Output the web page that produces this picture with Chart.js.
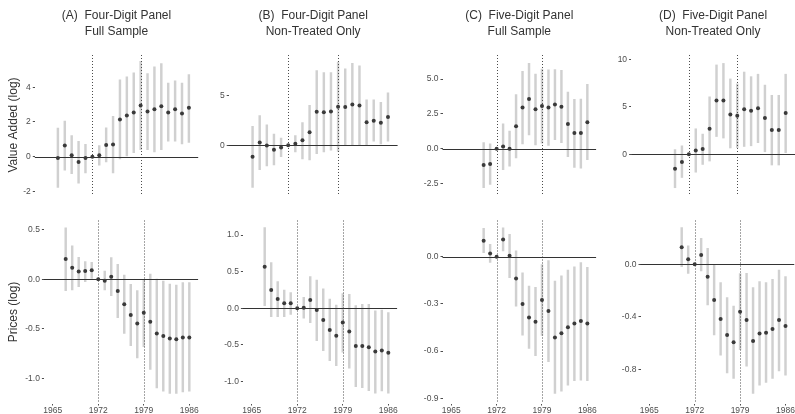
<!DOCTYPE html>
<html>
<head>
<meta charset="utf-8">
<script src="https://cdn.jsdelivr.net/npm/chart.js@4.4.1/dist/chart.umd.min.js"></script>
<style>
  body { margin: 0; background: #fff; }
  #wrap { position: relative; width: 795px; height: 414px; background: #fff; overflow: hidden; }
  #wrap canvas { position: absolute; }
</style>
</head>
<body>
<div id="wrap"></div>
<script>
// years of the event-study coefficients
const years4 = [1967, 1968, 1969, 1970, 1971, 1972, 1973, 1974, 1975, 1976,
                1977, 1978, 1979, 1980, 1981, 1982, 1983, 1984, 1985, 1986];
const years5 = [1970, 1971, 1972, 1973, 1974, 1975, 1976, 1977, 1978,
                1979, 1980, 1981, 1982, 1983, 1984, 1985, 1986];
const xTicks = [1965, 1972, 1979, 1986];
const eventYears = [1972, 1979];

const panelTitles = [
  ['(A)  Four-Digit Panel', 'Full Sample'],
  ['(B)  Four-Digit Panel', 'Non-Treated Only'],
  ['(C)  Five-Digit Panel', 'Full Sample'],
  ['(D)  Five-Digit Panel', 'Non-Treated Only']
];
const rowTitles = ['Value Added (log)', 'Prices (log)'];

// value added (log) - top row
const vaAEst = [-0.07, 0.64, 0.09, -0.30, -0.07, 0, 0.09, 0.67, 0.71, 2.14, 2.37, 2.55, 2.94, 2.60, 2.73, 2.90, 2.55, 2.73, 2.49, 2.82];
const vaALo  = [-1.76, -0.77, -0.98, -1.52, -0.93, null, -0.48, -0.30, -0.93, -0.13, 0.05, 0.23, 0.40, 0.41, 0.28, 0.41, 0.89, 0.89, 0.73, 0.82];
const vaAHi  = [1.65, 2.05, 1.21, 0.89, 0.71, null, 0.64, 1.66, 2.32, 4.42, 4.60, 4.83, 5.48, 4.78, 5.17, 5.36, 4.24, 4.37, 4.24, 4.72];

const vaBEst = [-1.15, 0.28, -0.03, -0.44, -0.22, 0, 0.16, 0.50, 1.30, 3.35, 3.29, 3.38, 3.85, 3.82, 4.07, 3.98, 2.30, 2.45, 2.24, 2.82];
const vaBLo  = [-4.22, -2.45, -2.08, -1.98, -1.15, null, -0.68, -1.37, -1.46, -0.84, -0.68, -0.50, -0.61, 0.03, -0.03, 0.03, 0.03, 0.40, 0.12, 0.40];
const vaBHi  = [1.89, 2.98, 2.05, 1.12, 0.71, null, 0.96, 2.26, 4.00, 7.48, 7.27, 7.27, 8.31, 7.64, 8.19, 7.95, 4.54, 4.54, 4.29, 5.25];

const vaCEst = [-1.18, -1.11, 0, 0.16, 0.00, 1.61, 2.95, 3.57, 2.84, 3.06, 2.95, 3.17, 3.01, 1.77, 1.12, 1.12, 1.90];
const vaCLo  = [-2.81, -2.57, null, -1.51, -1.25, -0.67, 0.34, 0.98, 0.27, 0.40, 0.23, 0.65, 0.43, -0.58, -1.34, -1.41, -0.80];
const vaCHi  = [0.43, 0.34, null, 1.79, 1.27, 3.88, 5.56, 6.14, 5.36, 5.72, 5.67, 5.69, 5.63, 4.07, 3.55, 3.57, 4.62];

const vaDEst = [-1.54, -0.82, 0, 0.39, 0.56, 2.69, 5.67, 5.67, 4.20, 4.07, 4.76, 4.59, 4.86, 3.84, 2.56, 2.56, 4.37];
const vaDLo  = [-3.54, -2.46, null, -1.90, -1.08, -0.72, 1.87, 1.71, 0.66, 0.70, 0.82, 0.89, 1.22, 0.26, -1.14, -1.14, 0.16];
const vaDHi  = [0.49, 0.89, null, 2.69, 2.13, 6.07, 9.44, 9.60, 7.96, 7.44, 8.69, 8.20, 8.46, 7.31, 6.23, 6.23, 8.46];

// prices (log) - bottom row
const prAEst = [0.206, 0.118, 0.078, 0.084, 0.091, 0, -0.014, 0.027, -0.118, -0.253, -0.361, -0.446, -0.338, -0.429, -0.547, -0.574, -0.598, -0.605, -0.588, -0.588];
const prALo  = [-0.115, -0.108, -0.074, -0.024, 0.010, null, -0.108, -0.166, -0.389, -0.547, -0.672, -0.794, -0.680, -0.912, -1.098, -1.132, -1.155, -1.155, -1.138, -1.132];
const prAHi  = [0.520, 0.340, 0.223, 0.180, 0.172, null, 0.084, 0.220, 0.152, 0.044, -0.050, -0.115, 0.000, 0.054, 0.003, -0.017, -0.047, -0.057, -0.034, -0.034];

const prBEst = [0.568, 0.250, 0.127, 0.068, 0.068, 0, 0.009, 0.114, -0.023, -0.159, -0.295, -0.373, -0.195, -0.318, -0.514, -0.514, -0.532, -0.591, -0.577, -0.605];
const prBLo  = [0.036, -0.114, -0.114, -0.114, -0.082, null, -0.136, -0.195, -0.440, -0.577, -0.714, -0.782, -0.600, -0.818, -1.068, -1.082, -1.123, -1.159, -1.127, -1.159];
const prBHi  = [1.100, 0.623, 0.364, 0.250, 0.214, null, 0.150, 0.432, 0.386, 0.264, 0.127, 0.045, 0.200, 0.190, 0.036, 0.055, 0.055, -0.036, -0.023, -0.059];

const prCEst = [0.102, 0.021, 0, 0.110, 0.006, -0.138, -0.301, -0.386, -0.413, -0.275, -0.345, -0.513, -0.487, -0.449, -0.424, -0.409, -0.424];
const prCLo  = [0.025, -0.036, null, 0.036, -0.133, -0.314, -0.498, -0.583, -0.629, -0.500, -0.667, -0.869, -0.854, -0.816, -0.788, -0.784, -0.788];
const prCHi  = [0.180, 0.078, null, 0.184, 0.142, 0.038, -0.102, -0.186, -0.195, -0.050, -0.025, -0.155, -0.121, -0.085, -0.064, -0.038, -0.068];

const prDEst = [0.130, 0.038, 0, 0.071, -0.094, -0.272, -0.417, -0.539, -0.595, -0.361, -0.425, -0.585, -0.527, -0.522, -0.494, -0.425, -0.471];
const prDLo  = [-0.018, -0.069, null, -0.051, -0.310, -0.539, -0.692, -0.827, -0.870, -0.650, -0.776, -0.985, -0.921, -0.901, -0.870, -0.812, -0.845];
const prDHi  = [0.280, 0.140, null, 0.198, 0.122, -0.005, -0.140, -0.254, -0.318, -0.070, -0.069, -0.178, -0.132, -0.140, -0.115, -0.043, -0.094];

// y tick labels per panel
const vaATicks = [-2, 0, 2, 4];
const vaBTicks = [0, 5];
const vaCTicks = [-2.5, 0, 2.5, 5];
const vaDTicks = [0, 5, 10];
const prATicks = [-1, -0.5, 0, 0.5];
const prBTicks = [-1, -0.5, 0, 0.5, 1];
const prCTicks = [-0.9, -0.6, -0.3, 0];
const prDTicks = [-0.8, -0.4, 0];

const FONT = "'Liberation Sans', Arial, Helvetica, sans-serif";
const X_MIN = 1963.65, X_MAX = 1987.35;

// layout: plot-area left/right edges (page px) and y ranges
const panels = [
  { row: 0, col: 0, years: years4, est: vaAEst, lo: vaALo, hi: vaAHi, ticks: vaATicks, dec: 0, yMin: -2.2,  yMax: 5.85,  L: 34.8,  R: 198.2 },
  { row: 0, col: 1, years: years4, est: vaBEst, lo: vaBLo, hi: vaBHi, ticks: vaBTicks, dec: 0, yMin: -4.98, yMax: 9.03,  L: 228.7, R: 397.6 },
  { row: 0, col: 2, years: years5, est: vaCEst, lo: vaCLo, hi: vaCHi, ticks: vaCTicks, dec: 1, yMin: -3.33, yMax: 6.73,  L: 442.5, R: 596.1 },
  { row: 0, col: 3, years: years5, est: vaDEst, lo: vaDLo, hi: vaDHi, ticks: vaDTicks, dec: 0, yMin: -4.31, yMax: 10.49, L: 631.1, R: 795 },
  { row: 1, col: 0, years: years4, est: prAEst, lo: prALo, hi: prAHi, ticks: prATicks, dec: 1, yMin: -1.256, yMax: 0.595, L: 43.9,  R: 198.1 },
  { row: 1, col: 1, years: years4, est: prBEst, lo: prBLo, hi: prBHi, ticks: prBTicks, dec: 1, yMin: -1.299, yMax: 1.198, L: 242.9, R: 397.1 },
  { row: 1, col: 2, years: years5, est: prCEst, lo: prCLo, hi: prCHi, ticks: prCTicks, dec: 1, yMin: -0.933, yMax: 0.230, L: 442.5, R: 596.1 },
  { row: 1, col: 3, years: years5, est: prDEst, lo: prDLo, hi: prDHi, ticks: prDTicks, dec: 1, yMin: -1.061, yMax: 0.334, L: 640.5, R: 794.8 }
];

// zero line + dotted event-year lines, drawn after the interval bars
const refLines = {
  id: 'refLines',
  afterDatasetDraw(chart, args) {
    if (args.index !== 0) return;
    const { ctx, chartArea: a, scales: { x, y } } = chart;
    ctx.save();
    ctx.strokeStyle = '#4a4a4a';
    ctx.lineWidth = 1;
    ctx.setLineDash([1, 2]);
    eventYears.forEach(yr => {
      const px = Math.round(x.getPixelForValue(yr)) + 0.5;
      ctx.beginPath();
      ctx.moveTo(px, a.top);
      ctx.lineTo(px, a.bottom);
      ctx.stroke();
    });
    ctx.setLineDash([]);
    ctx.strokeStyle = '#333';
    const py = Math.round(y.getPixelForValue(0)) + 0.5;
    ctx.beginPath();
    ctx.moveTo(a.left, py);
    ctx.lineTo(a.right, py);
    ctx.stroke();
    ctx.restore();
  }
};

const wrap = document.getElementById('wrap');
const COL_W = 199;

panels.forEach(p => {
  const cLeft = p.col * COL_W;
  const cW = Math.min(COL_W, 795 - cLeft);
  const cTop = p.row === 0 ? 0 : 207;
  const cH = 207;
  const canvas = document.createElement('canvas');
  canvas.width = cW;
  canvas.height = cH;
  canvas.style.left = cLeft + 'px';
  canvas.style.top = cTop + 'px';
  wrap.appendChild(canvas);

  const yWidth = p.L - cLeft;
  const padRight = Math.max(0, cLeft + cW - p.R);

  new Chart(canvas, {
    type: 'scatter',
    data: {
      datasets: [
        {
          type: 'bar',
          data: p.years.map((yr, i) => ({ x: yr, y: p.lo[i] === null ? null : [p.lo[i], p.hi[i]] })),
          backgroundColor: '#d0d0d0',
          borderWidth: 0,
          barThickness: 1.8,
          order: 2
        },
        {
          type: 'scatter',
          data: p.years.map((yr, i) => ({ x: yr, y: p.est[i] })),
          backgroundColor: '#3a3a3a',
          borderWidth: 0,
          pointRadius: 2,
          order: 1
        }
      ]
    },
    options: {
      responsive: false,
      animation: false,
      events: [],
      layout: {
        autoPadding: false,
        padding: { left: 0, right: padRight, top: p.row === 0 ? 0 : 13.5, bottom: p.row === 0 ? 1.5 : 0 }
      },
      plugins: {
        legend: { display: false },
        tooltip: { enabled: false },
        title: {
          display: p.row === 0,
          fullSize: false,
          text: panelTitles[p.col],
          color: '#333',
          font: { family: FONT, size: 12, weight: 'normal', lineHeight: 1.3333 },
          padding: { top: 8, bottom: 15 }
        }
      },
      scales: {
        x: {
          type: 'linear',
          min: X_MIN,
          max: X_MAX,
          offset: false,
          display: p.row === 1,
          afterBuildTicks: s => { s.ticks = xTicks.map(v => ({ value: v })); },
          afterFit: s => { s.height = 10.5; },
          ticks: {
            autoSkip: false, maxRotation: 0, padding: 0,
            color: '#4d4d4d',
            font: { family: FONT, size: 8.5 },
            callback: v => String(v)
          },
          grid: { offset: false, drawOnChartArea: false, drawTicks: true, tickLength: 2, color: '#4d4d4d' },
          border: { display: false }
        },
        y: {
          type: 'linear',
          min: p.yMin,
          max: p.yMax,
          afterBuildTicks: s => { s.ticks = p.ticks.map(v => ({ value: v })); },
          afterFit: s => { s.width = yWidth; },
          ticks: {
            padding: 2,
            color: '#4d4d4d',
            font: { family: FONT, size: 8.5 },
            callback: v => Number(v).toFixed(p.dec)
          },
          grid: { offset: false, drawOnChartArea: false, drawTicks: true, tickLength: 2, color: '#4d4d4d' },
          border: { display: false },
          title: {
            display: p.col === 0,
            text: rowTitles[p.row],
            color: '#333',
            font: { family: FONT, size: 12 },
            padding: { top: 6, bottom: 0 }
          }
        }
      }
    },
    plugins: [refLines]
  });
});
</script>
</body>
</html>
